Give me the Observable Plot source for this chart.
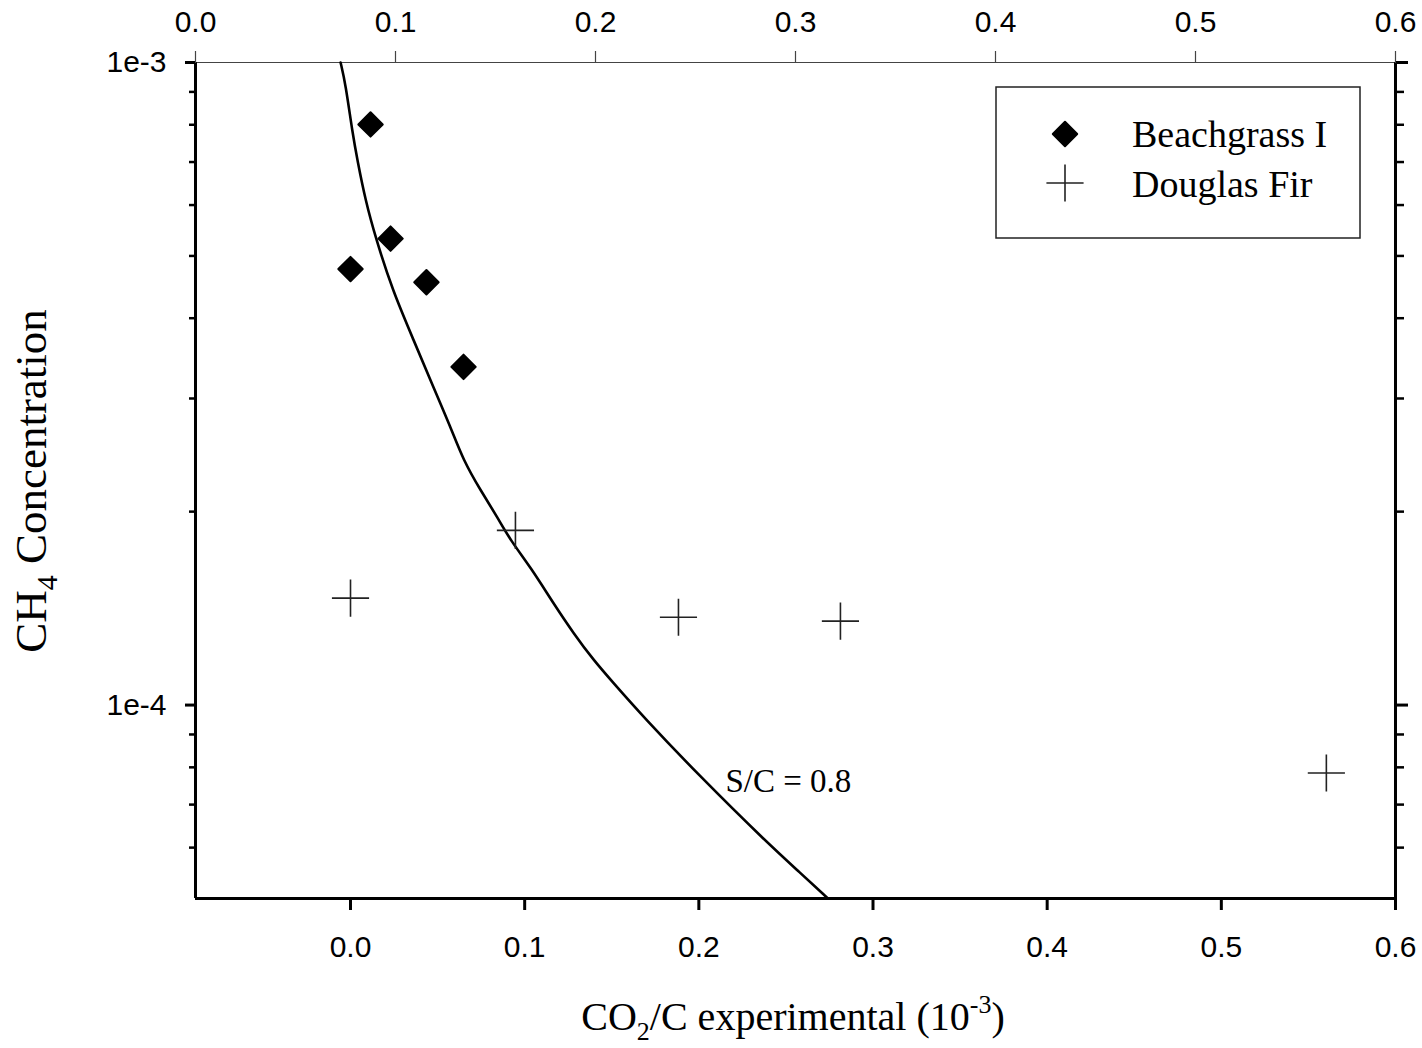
<!DOCTYPE html>
<html>
<head>
<meta charset="utf-8">
<script src="https://cdn.jsdelivr.net/npm/d3@7"></script>
<script src="https://cdn.jsdelivr.net/npm/@observablehq/plot@0.6"></script>
<style>
  html, body { margin: 0; padding: 0; background: #fff; }
  #chart svg { display: block; }
</style>
</head>
<body>
<div id="chart"></div>
<script>
// ---- scales / ticks ----
const xDomain = [-0.089, 0.6];
const topDomain = [0, 0.6];
const yDomain = [5e-5, 1e-3];
const bottomTicks = [0, 0.1, 0.2, 0.3, 0.4, 0.5, 0.6];
const topTicks = [0, 0.1, 0.2, 0.3, 0.4, 0.5, 0.6];
const yMajorTicks = [1e-4, 1e-3];
const yMajorLabels = ["1e-4", "1e-3"];
const yMinorTicks = [6e-5, 7e-5, 8e-5, 9e-5, 2e-4, 3e-4, 4e-4, 5e-4, 6e-4, 7e-4, 8e-4, 9e-4];

// ---- series ----
const beachX = [0.0115, 0.0, 0.023, 0.0436, 0.0649];
const beachY = [8.01e-4, 4.77e-4, 5.32e-4, 4.55e-4, 3.36e-4];
const firX = [0.0, 0.0947, 0.1883, 0.2813, 0.5603];
const firY = [1.467e-4, 1.87e-4, 1.37e-4, 1.351e-4, 7.84e-5];
const curveX = [-0.0057, -0.0029, 0.0012, 0.0040, 0.0086, 0.0144, 0.0241, 0.0362, 0.0477, 0.0574, 0.0649, 0.0746, 0.0844, 0.0918, 0.1033, 0.1165, 0.1280, 0.1395, 0.1510, 0.1682, 0.2009, 0.2394, 0.2583, 0.2738];
const curveY = [1.0e-3, 9.28e-4, 7.75e-4, 7.04e-4, 6.10e-4, 5.34e-4, 4.42e-4, 3.70e-4, 3.12e-4, 2.71e-4, 2.40e-4, 2.16e-4, 1.96e-4, 1.805e-4, 1.64e-4, 1.44e-4, 1.294e-4, 1.175e-4, 1.082e-4, 9.58e-5, 7.73e-5, 6.10e-5, 5.48e-5, 5.01e-5];
const curveLabel = "S/C = 0.8";
const curveLabelIndex = 20;
const seriesNames = ["Beachgrass I", "Douglas Fir"];

// ---- tables ----
const beach = beachX.map((x, i) => ({x, y: beachY[i]}));
const fir = firX.map((x, i) => ({x, y: firY[i]}));
const curve = curveX.map((x, i) => ({x, y: curveY[i]}));
const toBottom = t => xDomain[0] + (t - topDomain[0]) / (topDomain[1] - topDomain[0]) * (xDomain[1] - xDomain[0]);
const topMapped = topTicks.map(toBottom);
const topLabel = new Map(topMapped.map((v, i) => [v, topTicks[i].toFixed(1)]));
const yLabel = new Map(yMajorTicks.map((v, i) => [v, yMajorLabels[i]]));

const sans = "'Liberation Sans', Arial, sans-serif";
const serif = "'Liberation Serif', 'Times New Roman', serif";
const symR = 11, plusR = 12;

const plot = Plot.plot({
  width: 1422,
  height: 1048,
  marginTop: 62,
  marginBottom: 150,
  marginLeft: 195,
  marginRight: 27,
  style: {fontFamily: sans, fontSize: "30px", background: "#fff", color: "#000"},
  x: {domain: xDomain, label: null},
  y: {type: "log", domain: yDomain, label: null},
  marks: [
    // frame lines
    Plot.ruleY([yDomain[1]], {stroke: "#444", strokeWidth: 1.2}),
    Plot.ruleY([yDomain[0]], {stroke: "#000", strokeWidth: 3}),
    Plot.ruleX([xDomain[0]], {stroke: "#000", strokeWidth: 3}),
    Plot.ruleX([xDomain[1]], {stroke: "#000", strokeWidth: 3}),
    // bottom axis
    Plot.axisX(bottomTicks, {anchor: "bottom", tickSize: 12, tickPadding: 25, strokeWidth: 3,
      tickFormat: d => d.toFixed(1), fontSize: 30, label: null}),
    // top axis
    Plot.axisX(topMapped, {anchor: "top", tickSize: 12, tickPadding: 19, strokeWidth: 1.2, stroke: "#444",
      tickFormat: d => topLabel.get(d), fontSize: 30, label: null}),
    // left axis
    Plot.axisY(yMajorTicks, {anchor: "left", tickSize: 10, tickPadding: 19, strokeWidth: 3,
      tickFormat: d => yLabel.get(d), fontSize: 30, label: null}),
    Plot.axisY(yMinorTicks, {anchor: "left", tickSize: 6, strokeWidth: 2.5, tickFormat: () => "", label: null}),
    // right axis
    Plot.axisY(yMajorTicks, {anchor: "right", tickSize: 12, strokeWidth: 3, tickFormat: () => "", label: null}),
    Plot.axisY(yMinorTicks, {anchor: "right", tickSize: 8, strokeWidth: 2.5, tickFormat: () => "", label: null}),
    // curve
    Plot.line(curve, {x: "x", y: "y", stroke: "#000", strokeWidth: 2.6, curve: "basis"}),
    Plot.text([curve[curveLabelIndex]], {x: "x", y: "y", text: () => curveLabel, textAnchor: "start",
      dx: 25, dy: 5, fontSize: 33, fontFamily: serif, fill: "#000"}),
    // points
    Plot.dot(beach, {x: "x", y: "y", symbol: "diamond2", r: symR, fill: "#000", stroke: "#000",
      strokeWidth: 2, strokeLinejoin: "round"}),
    Plot.dot(fir, {x: "x", y: "y", symbol: "plus", r: plusR, fill: "none", stroke: "#222", strokeWidth: 1.6})
  ]
});

document.getElementById("chart").appendChild(plot);

// ---- titles and legend (text with sub/superscripts) ----
const svg = d3.select(plot);
const mr = 27, mt = 62;
const W = 1422;

// y axis title
const yt = svg.append("text")
  .attr("transform", "translate(46,481) rotate(-90)")
  .attr("text-anchor", "middle")
  .style("font-family", serif).style("font-size", "45px").attr("fill", "#000");
yt.append("tspan").text("CH");
yt.append("tspan").text("4").style("font-size", "30px").attr("dy", 11);
yt.append("tspan").text(" Concentration").attr("dy", -11);

// x axis title
const xt = svg.append("text")
  .attr("x", 793).attr("y", 1030)
  .attr("text-anchor", "middle")
  .style("font-family", serif).style("font-size", "40px").attr("fill", "#000");
xt.append("tspan").text("CO");
xt.append("tspan").text("2").style("font-size", "26px").attr("dy", 10);
xt.append("tspan").text("/C experimental (10").attr("dy", -10);
xt.append("tspan").text("-3").style("font-size", "26px").attr("dy", -17);
xt.append("tspan").text(")").attr("dy", 17);

// legend
const lg = svg.append("g").attr("transform", `translate(${W - mr - 399},${mt + 25})`);
lg.append("rect").attr("x", 0).attr("y", 0).attr("width", 364).attr("height", 151)
  .attr("fill", "#fff").attr("stroke", "#222").attr("stroke-width", 1.5);
lg.append("path").attr("transform", "translate(69,47)")
  .attr("d", d3.symbol(d3.symbolDiamond2, Math.PI * symR * symR)())
  .attr("fill", "#000").attr("stroke", "#000").attr("stroke-width", 2).attr("stroke-linejoin", "round");
lg.append("path").attr("transform", "translate(69,96)")
  .attr("d", d3.symbol(d3.symbolPlus, Math.PI * plusR * plusR)())
  .attr("fill", "none").attr("stroke", "#222").attr("stroke-width", 1.6);
seriesNames.forEach((name, i) => {
  lg.append("text").attr("x", 136).attr("y", 60 + i * 50)
    .attr("text-anchor", "start")
    .style("font-family", serif).style("font-size", "38px").attr("fill", "#000").text(name);
});
</script>
</body>
</html>
